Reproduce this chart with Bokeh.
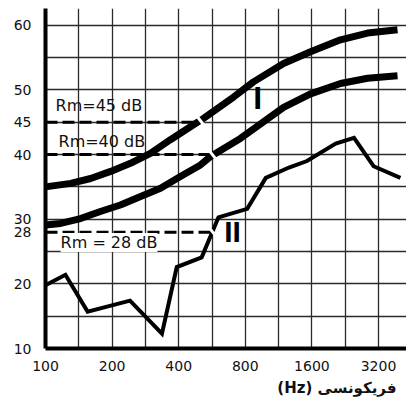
from bokeh.plotting import figure
from bokeh.models import Range1d, FixedTicker, Label, Title
from bokeh.embed import file_html
from bokeh.resources import INLINE

# ---- data ----
curve1_freq = [100, 130, 160, 197, 242, 298, 367, 452, 518, 708, 871, 1191, 1577, 2155, 2855, 3900]
curve1_db = [35.0, 35.55, 36.3, 37.4, 38.65, 40.2, 42.3, 44.3, 45.6, 48.9, 51.25, 54.1, 55.9, 57.75, 58.8, 59.3]

curve2_freq = [100, 117, 144, 177, 218, 269, 331, 407, 502, 557, 760, 935, 1191, 1577, 2155, 2855, 3900]
curve2_db = [29.1, 29.35, 30.1, 31.2, 32.2, 33.5, 34.8, 36.6, 38.4, 39.7, 42.5, 44.7, 47.3, 49.4, 51.0, 51.8, 52.2]

curve3_freq = [100, 123, 155, 241, 336, 392, 508, 605, 816, 990, 1260, 1520, 2050, 2480, 3040, 4020]
curve3_db = [19.8, 21.4, 15.7, 17.4, 12.3, 22.6, 24.1, 30.3, 31.6, 36.4, 38.0, 39.0, 41.7, 42.6, 38.2, 36.4]

rm_values = [45, 40, 28]
rm_start_freq = [100, 100, 100]
rm_end_freq = [508, 568, 570]
rm_labels = ["Rm=45 dB", "Rm=40 dB", "Rm = 28 dB"]

x_ticks = [100, 200, 400, 800, 1600, 3200]
x_tick_labels = ["100", "200", "400", "800", "1600", "3200"]
y_ticks = [10, 20, 28, 30, 40, 45, 50, 60]
x_grid = [100, 141, 200, 283, 400, 566, 800, 1131, 1600, 2263, 3200]
y_grid = [15, 20, 25, 30, 35, 40, 45, 50, 55, 60]

p = figure(width=406, height=405, x_axis_type="log",
           x_range=Range1d(100, 4282), y_range=Range1d(10, 62.6),
           output_backend="svg", toolbar_location=None,
           min_border_left=45, min_border_right=0, min_border_top=8, min_border_bottom=57)
p.outline_line_color = None
p.background_fill_color = "white"
p.border_fill_color = "white"

# grids
p.xgrid.ticker = FixedTicker(ticks=x_grid)
p.ygrid.ticker = FixedTicker(ticks=y_grid)
for g in (p.xgrid, p.ygrid):
    g.grid_line_color = "#2a2a2a"
    g.grid_line_width = 1.3

# axes
p.xaxis.ticker = FixedTicker(ticks=x_ticks)
p.xaxis.major_label_overrides = {t: l for t, l in zip(x_ticks, x_tick_labels)}
p.yaxis.ticker = FixedTicker(ticks=y_ticks)
for ax in (p.xaxis, p.yaxis):
    ax.axis_line_width = 4
    ax.axis_line_color = "black"
    ax.major_tick_line_color = None
    ax.minor_tick_line_color = None
    ax.major_label_text_font = "DejaVu Sans"
    ax.major_label_text_font_size = "14px"
    ax.major_label_text_color = "#111111"
p.xaxis.major_label_standoff = 6
p.yaxis.major_label_standoff = 8

# dashed Rm lines
for x0, x1, v in zip(rm_start_freq, rm_end_freq, rm_values):
    p.line([x0, x1], [v, v], line_color="black", line_width=3, line_dash="12 5")

# curves
p.line(curve1_freq, curve1_db, line_color="black", line_width=7, line_join="round")
p.line(curve2_freq, curve2_db, line_color="black", line_width=7, line_join="round")
p.line(curve3_freq, curve3_db, line_color="black", line_width=4, line_join="miter")

# small white breaks where the dashed lines meet the curves
p.scatter(rm_end_freq, rm_values, marker="dash", size=14, angle=-0.9,
          line_color="white", line_width=3)

# Rm labels
rm_label_pos = [(111, 47.6), (114.5, 42.0), (117, 26.4)]
for (lx, ly), txt in zip(rm_label_pos, rm_labels):
    p.add_layout(Label(x=lx, y=ly, text=txt, text_font="DejaVu Sans",
                       text_font_size="16px", text_baseline="middle",
                       text_color="#111111",
                       background_fill_color="white" if txt.startswith("Rm =") else None))

# curve numbers
p.add_layout(Label(x=910, y=48.8, text="I", text_font="Liberation Sans",
                   text_font_style="bold", text_font_size="32px", text_color="black",
                   text_align="center", text_baseline="middle"))
p.add_layout(Label(x=700, y=28.1, text="II", text_font="Liberation Sans",
                   text_font_style="bold", text_font_size="30px", text_color="black",
                   text_align="center", text_baseline="middle"))

# x-axis title (Persian)
p.add_layout(Title(text="(Hz) فریکونسی", align="right", offset=10,
                   text_font="DejaVu Sans", text_font_style="bold",
                   text_font_size="15px", text_color="#111111", standoff=6), "below")

open("out.html", "w").write(file_html(p, INLINE))
